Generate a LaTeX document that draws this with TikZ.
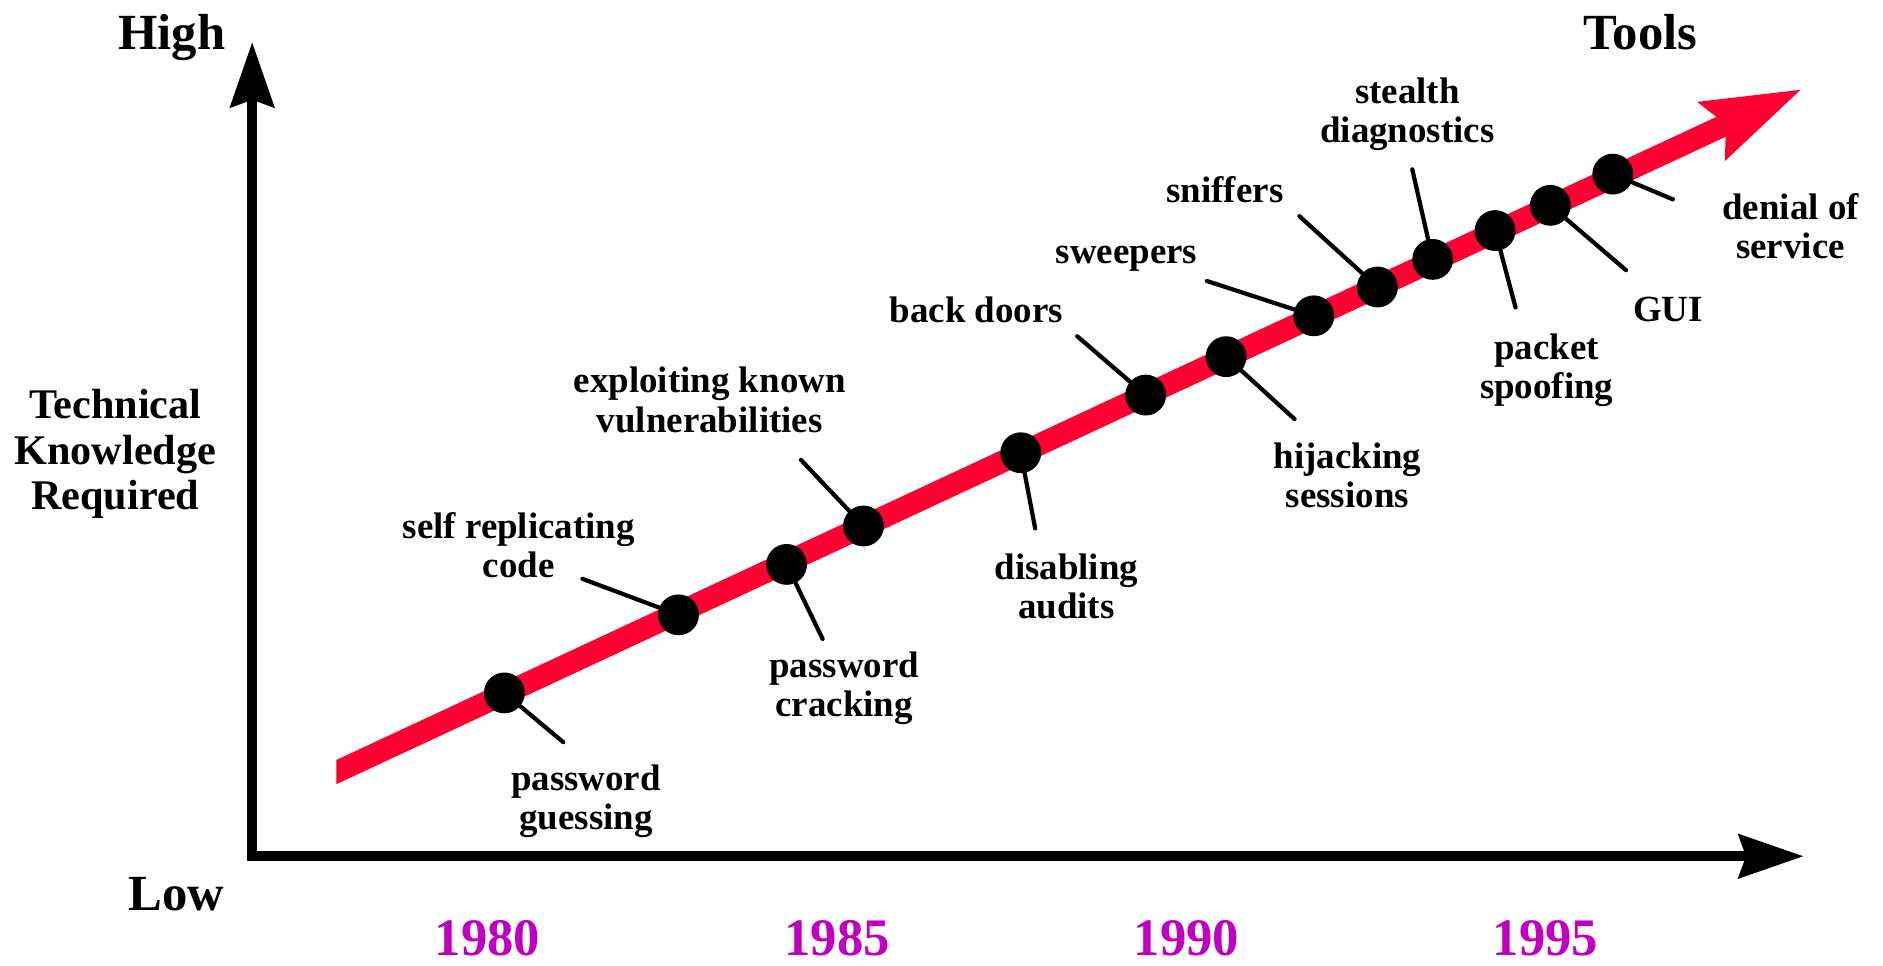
\documentclass[tikz,border=0pt]{standalone}
\usepackage{fontspec}
\setmainfont{Liberation Serif}
\usetikzlibrary{arrows.meta}

\definecolor{toolred}{RGB}{255,0,51}
\definecolor{yearpink}{RGB}{192,0,192}

\begin{document}
\begin{tikzpicture}[x=0.2mm,y=-0.2mm,
	dot/.style={circle,fill=black,inner sep=0pt,minimum size=6.8mm},
	lbl/.style={font=\bfseries\fontsize{17.5}{18.5}\selectfont,align=center},
	leader/.style={line width=2pt,line cap=round},
	axis/.style={line width=4.9pt,{Stealth[length=10.8mm,width=7.2mm,inset=1.2mm]}-{Stealth[length=10.8mm,width=7.2mm,inset=1.2mm]}},
	tool/.style={toolred,line width=10.4pt,-{Stealth[length=16.2mm,width=10mm,inset=2.2mm]}},
	year/.style={font=\bfseries\fontsize{25}{25}\selectfont,text=yearpink,inner sep=0pt},
	big/.style={font=\bfseries\fontsize{24}{24}\selectfont}]
	\useasboundingbox (0,0) rectangle (1568,804);

	% axes
	\coordinate (top) at (210,35);
	\coordinate (o) at (210,713);
	\coordinate (right) at (1502,713);
	\draw[axis] (top) -- (o) -- (right);

	\node[big,anchor=base] (high) at (143,41) {High};
	\node[big,anchor=base] (low) at (147,758) {Low};
	\node[big,anchor=base] (tools) at (1366,41) {Tools};
	\node[font=\bfseries\fontsize{20}{21.5}\selectfont,align=center] (knowledge) at (96,378) {Technical\\Knowledge\\Required};

	\node[year] (y80) at (406,781) {1980};
	\node[year] (y85) at (697,781) {1985};
	\node[year] (y90) at (988,781) {1990};
	\node[year] (y95) at (1287,781) {1995};

	% the tools arrow
	\coordinate (start) at (260,652.3);
	\coordinate (tip) at (1501,74);
	\begin{scope}
		\clip (280,0) rectangle (1568,804);
		\draw[tool] (start) -- (tip);
	\end{scope}

	\node[dot] (guess) at (420,577) {};
	\node[dot] (selfrep) at (565,512) {};
	\node[dot] (crack) at (655,470) {};
	\node[dot] (exploit) at (719,438) {};
	\node[dot] (audits) at (850,377) {};
	\node[dot] (doors) at (954,329) {};
	\node[dot] (hijack) at (1021,297) {};
	\node[dot] (sweep) at (1094,263) {};
	\node[dot] (sniff) at (1147,239) {};
	\node[dot] (stealth) at (1193,216) {};
	\node[dot] (spoof) at (1245,192) {};
	\node[dot] (gui) at (1291,171) {};
	\node[dot] (dos) at (1343,145) {};

	\coordinate (guess-e) at (469,618);
	\coordinate (selfrep-e) at (485,482);
	\coordinate (crack-e) at (685,532);
	\coordinate (exploit-e) at (667,383);
	\coordinate (audits-e) at (862,440);
	\coordinate (doors-e) at (897,280);
	\coordinate (hijack-e) at (1078,349);
	\coordinate (sweep-e) at (1005,234);
	\coordinate (sniff-e) at (1082,180);
	\coordinate (stealth-e) at (1176,141);
	\coordinate (spoof-e) at (1262,256);
	\coordinate (gui-e) at (1354,225);
	\coordinate (dos-e) at (1393,166);

	\draw[leader] (guess) -- (guess-e);
	\draw[leader] (selfrep) -- (selfrep-e);
	\draw[leader] (crack) -- (crack-e);
	\draw[leader] (exploit) -- (exploit-e);
	\draw[leader] (audits) -- (audits-e);
	\draw[leader] (doors) -- (doors-e);
	\draw[leader] (hijack) -- (hijack-e);
	\draw[leader] (sweep) -- (sweep-e);
	\draw[leader] (sniff) -- (sniff-e);
	\draw[leader] (stealth) -- (stealth-e);
	\draw[leader] (spoof) -- (spoof-e);
	\draw[leader] (gui) -- (gui-e);
	\draw[leader] (dos) -- (dos-e);

	\node[lbl] (guess-t) at (488,667) {password\\guessing};
	\node[lbl] (selfrep-t) at (432,454) {self replicating\\code};
	\node[lbl] (crack-t) at (703,573) {password\\cracking};
	\node[lbl] (exploit-t) at (591,333) {exploiting known\\vulnerabilities};
	\node[lbl] (audits-t) at (888,488) {disabling\\audits};
	\node[lbl] (doors-t) at (813,258) {back doors};
	\node[lbl] (hijack-t) at (1122,396) {hijacking\\sessions};
	\node[lbl] (sweep-t) at (938,215) {sweepers};
	\node[lbl] (sniff-t) at (1020,158) {sniffers};
	\node[lbl] (stealth-t) at (1172,95) {stealth\\diagnostics};
	\node[lbl] (spoof-t) at (1288,308) {packet\\spoofing};
	\node[lbl] (gui-t) at (1389,258) {GUI};
	\node[lbl] (dos-t) at (1491,188) {denial of\\service};
\end{tikzpicture}
\end{document}
